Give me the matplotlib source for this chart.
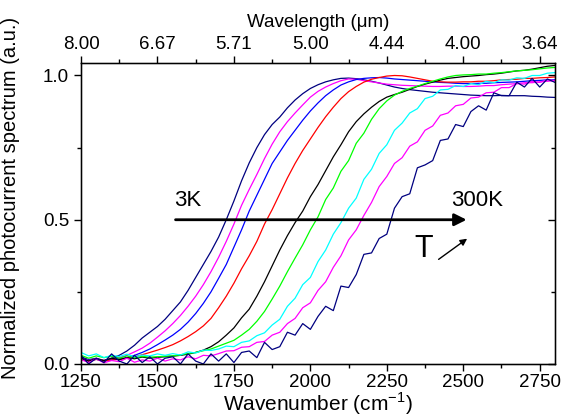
import numpy as np
import matplotlib
matplotlib.use("Agg")
import matplotlib.pyplot as plt
from matplotlib.ticker import MultipleLocator, FixedLocator

plt.rcParams['font.family'] = ['Liberation Sans', 'DejaVu Sans']
plt.rcParams['mathtext.fontset'] = 'custom'
plt.rcParams['mathtext.rm'] = 'Liberation Sans'

# wavenumber grid (cm^-1)
wavenumber = np.arange(1250, 2801, 25)

t3K = [0.025, 0.015, 0.02, 0.012, 0.02, 0.03, 0.045, 0.065, 0.09, 0.11,
       0.13, 0.155, 0.185, 0.215, 0.255, 0.30, 0.345, 0.39, 0.44, 0.50,
       0.565, 0.635, 0.697, 0.75, 0.795, 0.83, 0.856, 0.888, 0.915, 0.937,
       0.955, 0.968, 0.978, 0.985, 0.99, 0.991, 0.989, 0.985, 0.98, 0.974,
       0.967, 0.96, 0.955, 0.951, 0.948, 0.945, 0.942, 0.94, 0.938, 0.936,
       0.934, 0.932, 0.931, 0.93, 0.93, 0.931, 0.93, 0.93, 0.93, 0.928,
       0.927, 0.925, 0.924]
magenta_low = [0.02, 0.012, 0.018, 0.012, 0.018, 0.022, 0.03, 0.042, 0.055, 0.072,
               0.093, 0.115, 0.14, 0.168, 0.2, 0.235, 0.275, 0.32, 0.37, 0.425,
               0.485, 0.55, 0.605, 0.657, 0.712, 0.762, 0.805, 0.84, 0.87, 0.898,
               0.925, 0.945, 0.96, 0.972, 0.982, 0.988, 0.987, 0.982, 0.978, 0.974,
               0.97, 0.968, 0.966, 0.965, 0.964, 0.963, 0.962, 0.962, 0.963, 0.963,
               0.962, 0.962, 0.963, 0.965, 0.965, 0.968, 0.97, 0.972, 0.975, 0.975,
               0.978, 0.98, 0.982]
blue = [0.018, 0.012, 0.016, 0.01, 0.015, 0.018, 0.022, 0.03, 0.04, 0.052,
        0.067, 0.083, 0.1, 0.12, 0.145, 0.175, 0.21, 0.25, 0.297, 0.345,
        0.405, 0.465, 0.53, 0.585, 0.64, 0.695, 0.735, 0.775, 0.81, 0.845,
        0.877, 0.905, 0.93, 0.95, 0.967, 0.978, 0.986, 0.99, 0.992, 0.993,
        0.991, 0.988, 0.986, 0.984, 0.982, 0.98, 0.978, 0.976, 0.975, 0.973,
        0.972, 0.972, 0.973, 0.973, 0.975, 0.976, 0.977, 0.978, 0.98, 0.982,
        0.983, 0.985, 0.985]
red = [0.015, 0.01, 0.016, 0.01, 0.014, 0.016, 0.02, 0.025, 0.032, 0.04,
       0.048, 0.057, 0.067, 0.08, 0.095, 0.112, 0.132, 0.158, 0.195, 0.235,
       0.28, 0.33, 0.375, 0.425, 0.485, 0.535, 0.59, 0.645, 0.695, 0.74,
       0.78, 0.82, 0.857, 0.89, 0.92, 0.944, 0.962, 0.977, 0.987, 0.993,
       0.998, 1.0, 0.999, 0.995, 0.99, 0.985, 0.98, 0.978, 0.977, 0.977,
       0.978, 0.978, 0.98, 0.98, 0.982, 0.985, 0.986, 0.987, 0.99, 0.99,
       0.992, 0.993, 0.995]
black = [0.02, 0.01, 0.018, 0.012, 0.02, 0.015, 0.022, 0.018, 0.024, 0.02,
         0.023, 0.025, 0.027, 0.03, 0.034, 0.04, 0.048, 0.06, 0.077, 0.1,
         0.125, 0.16, 0.19, 0.235, 0.285, 0.34, 0.395, 0.445, 0.49, 0.53,
         0.58, 0.622, 0.67, 0.718, 0.76, 0.805, 0.84, 0.867, 0.89, 0.91,
         0.925, 0.934, 0.942, 0.952, 0.962, 0.97, 0.977, 0.984, 0.99, 0.993,
         0.996, 0.998, 1.0, 1.003, 1.005, 1.008, 1.012, 1.016, 1.018, 1.022,
         1.027, 1.032, 1.035]
green = [0.03, 0.02, 0.028, 0.022, 0.027, 0.02, 0.028, 0.022, 0.026, 0.024,
         0.025, 0.027, 0.028, 0.032, 0.036, 0.04, 0.046, 0.052, 0.062, 0.072,
         0.082, 0.1, 0.12, 0.148, 0.182, 0.225, 0.27, 0.32, 0.367, 0.413,
         0.465, 0.51, 0.57, 0.61, 0.668, 0.705, 0.765, 0.8, 0.848, 0.885,
         0.912, 0.932, 0.945, 0.955, 0.963, 0.972, 0.98, 0.988, 0.995, 1.0,
         1.002, 1.003, 1.005, 1.005, 1.008, 1.01, 1.013, 1.016, 1.018, 1.02,
         1.023, 1.026, 1.028]
cyan = [0.04, 0.028, 0.035, 0.022, 0.03, 0.026, 0.034, 0.025, 0.031, 0.028,
        0.035, 0.03, 0.036, 0.031, 0.042, 0.038, 0.048, 0.047, 0.052, 0.062,
        0.06, 0.075, 0.08, 0.098, 0.108, 0.135, 0.155, 0.2, 0.228, 0.275,
        0.3, 0.355, 0.395, 0.45, 0.49, 0.54, 0.575, 0.64, 0.675, 0.73,
        0.76, 0.81, 0.835, 0.87, 0.885, 0.92, 0.928, 0.95, 0.952, 0.965,
        0.962, 0.972, 0.968, 0.98, 0.975, 0.985, 0.984, 0.992, 0.99, 1.0,
        1.0, 1.008, 1.01]
magenta_high = [0.015, 0.005, 0.018, 0.004, 0.012, 0.008, 0.02, 0.006, 0.014, 0.01,
                0.02, 0.01, 0.018, 0.014, 0.025, 0.018, 0.03, 0.028, 0.036, 0.045,
                0.046, 0.058, 0.06, 0.075, 0.078, 0.1, 0.11, 0.14, 0.158, 0.195,
                0.212, 0.255, 0.285, 0.335, 0.375, 0.43, 0.465, 0.515, 0.56, 0.615,
                0.65, 0.695, 0.715, 0.755, 0.77, 0.81, 0.825, 0.862, 0.87, 0.895,
                0.9, 0.922, 0.925, 0.94, 0.942, 0.958, 0.958, 0.972, 0.97, 0.98,
                0.976, 0.985, 0.982]
t300K = [0.03, 0.0, 0.02, 0.005, 0.035, 0.01, 0.0, 0.03, 0.005, 0.025,
         0.0, 0.02, 0.025, 0.0, 0.035, 0.01, 0.0, 0.035, 0.01, 0.035,
         0.005, 0.04, 0.045, 0.022, 0.075, 0.05, 0.06, 0.11, 0.1, 0.14,
         0.12, 0.165, 0.2, 0.185, 0.27, 0.265, 0.31, 0.38, 0.385, 0.435,
         0.45, 0.54, 0.58, 0.59, 0.68, 0.69, 0.705, 0.775, 0.78, 0.83,
         0.823, 0.875, 0.895, 0.88, 0.94, 0.93, 0.93, 0.977, 0.96, 0.99,
         0.96, 0.988, 0.976]

series = [t3K, magenta_low, blue, red, black, green, cyan, magenta_high, t300K]
colors = ['#000080', '#FF00FF', '#0000FF', '#FF0000', '#000000',
          '#00FF00', '#00FFFF', '#FF00FF', '#000080']

bottom_ticks = [1250, 1500, 1750, 2000, 2250, 2500, 2750]
top_labels = ['8.00', '6.67', '5.71', '5.00', '4.44', '4.00', '3.64']

fig = plt.figure(figsize=(5.63, 4.19), dpi=100)
ax = fig.add_axes([0.1439, 0.1313, 0.8419, 0.7195])

for ys, c in zip(series, colors):
    ax.plot(wavenumber, ys, color=c, lw=0.9)

ax.set_xlim(1250, 2800)
ax.set_ylim(0, 1.045)
ax.xaxis.set_major_locator(FixedLocator(bottom_ticks))
ax.xaxis.set_minor_locator(MultipleLocator(125))
ax.set_yticks([0.0, 0.5, 1.0])
ax.set_yticklabels(['0.0', '0.5', '1.0'])
ax.yaxis.set_minor_locator(MultipleLocator(0.25))
ax.tick_params(which='major', direction='out', length=5, width=1, labelsize=13.5)
ax.tick_params(axis='x', which='major', pad=2)
ax.tick_params(which='minor', direction='out', length=3, width=1)
for s in ax.spines.values():
    s.set_linewidth(1.0)

ax.set_xlabel('Wavenumber (cm$^{-1}$)', fontsize=15, labelpad=0)
ax.set_ylabel('Normalized photocurrent spectrum (a.u.)', fontsize=14.5)
ax.yaxis.set_label_coords(-0.128, 0.55)

# top axis
ax2 = ax.twiny()
ax2.set_xlim(ax.get_xlim())
ax2.xaxis.set_major_locator(FixedLocator(bottom_ticks))
ax2.set_xticklabels(top_labels)
ax2.xaxis.set_minor_locator(MultipleLocator(125))
ax2.tick_params(which='major', direction='out', length=5, width=1, labelsize=13.5, pad=2)
ax2.tick_params(which='minor', direction='out', length=3, width=1)
ax2.set_xlabel('Wavelength (μm)', fontsize=13.5, labelpad=6)

# right ticks (inward)
ax3 = ax.twinx()
ax3.set_ylim(ax.get_ylim())
ax3.set_yticks([0.0, 0.5, 1.0])
ax3.yaxis.set_minor_locator(MultipleLocator(0.25))
ax3.tick_params(which='major', direction='in', length=5, width=1, labelright=False)
ax3.tick_params(which='minor', direction='in', length=3, width=1)

# annotations
ax.annotate('', xy=(2520, 0.5), xytext=(1550, 0.5),
            arrowprops=dict(arrowstyle='-|>', lw=2, color='black', mutation_scale=18))
ax.text(1556, 0.567, '3K', fontsize=16, va='center', ha='left')
ax.text(2460, 0.567, '300K', fontsize=16, va='center', ha='left')
ax.text(2371, 0.40, 'T', fontsize=22, va='center', ha='center')
ax.annotate('', xy=(2520, 0.44), xytext=(2412, 0.357),
            arrowprops=dict(arrowstyle='-|>', lw=1, color='black', mutation_scale=10))

fig.savefig('out.png', dpi=100)
